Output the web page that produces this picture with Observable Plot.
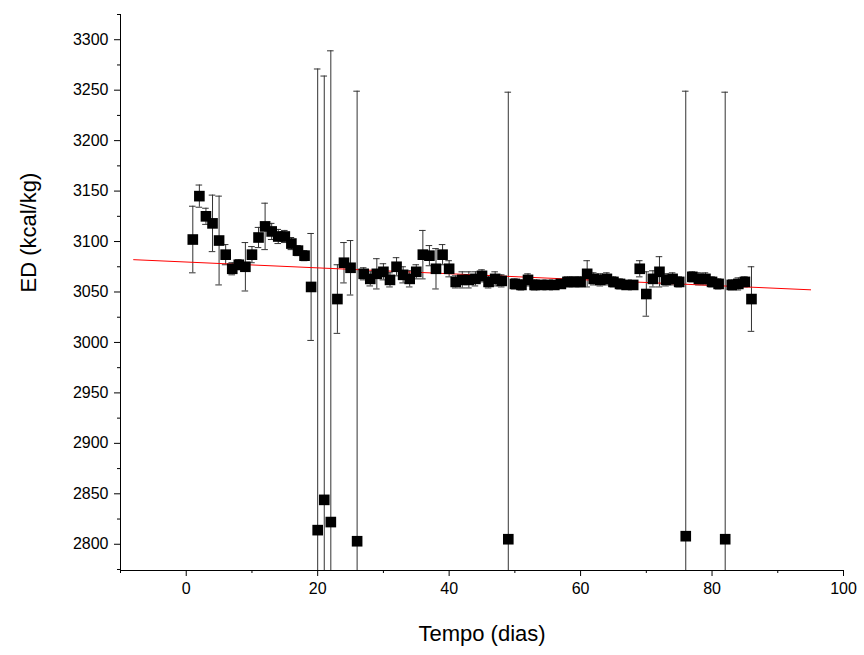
<!DOCTYPE html>
<html><head><meta charset="utf-8">
<script src="https://cdn.jsdelivr.net/npm/d3@7"></script>
<script src="https://cdn.jsdelivr.net/npm/@observablehq/plot@0.6"></script>
<style>body{margin:0;background:#fff}</style>
</head><body><div id="chart"></div>
<script>
// ED per day, with standard deviation
const days = d3.range(1, 87)
const ed = [3102,3145,3125,3118,3101,3087,3073,3077,3075,3087,3104,3115,3110,3105,3105,3098,3091,3086,3055,2814,
  2844,2822,3043,3079,3074,2803,3068,3063,3068,3070,3062,3075,3067,3063,3070,3087,3086,3073,3087,3073,
  3060,3062,3062,3063,3066,3060,3063,3061,2805,3058,3057,3062,3057,3057,3057,3057,3058,3060,3060,3060,
  3068,3063,3062,3063,3060,3058,3057,3057,3073,3048,3063,3070,3062,3063,3060,2808,3065,3063,3063,3060,
  3058,2805,3057,3058,3060,3043]
const sd = [33,11,8,28,44,10,6,5,24,8,10,23,8,7,6,6,5,5,53,457,
  420,467,34,20,27,446,6,7,15,8,7,9,8,8,7,24,10,20,10,8,
  6,8,8,7,6,6,7,6,443,5,5,6,5,4,4,4,4,5,5,5,13,6,6,6,5,5,4,4,8,22,
  8,15,6,6,5,441,5,6,6,5,5,443,5,6,5,32]
// linear fit
const fitIntercept = 3079.7
const fitSlope = -0.29
const fitX = [-8, 95]

const data = days.map((x, i) => ({x, y: ed[i], sd: sd[i]}))
const fit = fitX.map(x => ({x, y: fitIntercept + fitSlope * x}))

const chart = Plot.plot({
  width: 864, height: 655,
  marginLeft: 120, marginTop: 14, marginRight: 21, marginBottom: 85,
  style: {fontFamily: "Liberation Sans, Arial, sans-serif", fontSize: "16px", color: "black", background: "white"},
  x: {domain: [-10, 100]},
  y: {domain: [2774, 3325]},
  marks: [
    Plot.axisX({ticks: d3.range(0, 101, 20), tickSize: 6, tickPadding: 6, fontSize: 16, label: null, tickFormat: d3.format("d")}),
    Plot.axisX({ticks: d3.range(-10, 101, 20), tickSize: 3, tickFormat: () => "", label: null}),
    Plot.axisY({ticks: d3.range(2800, 3301, 50), tickSize: 6, tickPadding: 6, fontSize: 16, label: null, tickFormat: d3.format("d")}),
    Plot.axisY({ticks: d3.range(2775, 3326, 50), tickSize: 3, tickFormat: () => "", label: null}),
    Plot.ruleX([-10], {stroke: "black"}),
    Plot.ruleY([2774], {stroke: "black"}),
    Plot.ruleX(data, {x: "x", y1: d => d.y - d.sd, y2: d => d.y + d.sd, stroke: "#333", strokeWidth: 1, clip: true}),
    Plot.ruleY(data, {y: d => d.y + d.sd, x1: d => d.x - 0.5, x2: d => d.x + 0.5, stroke: "#333", clip: true}),
    Plot.ruleY(data, {y: d => d.y - d.sd, x1: d => d.x - 0.5, x2: d => d.x + 0.5, stroke: "#333", clip: true}),
    Plot.line(fit, {x: "x", y: "y", stroke: "red", strokeWidth: 1}),
    Plot.dot(data, {x: "x", y: "y", symbol: "square", r: 6, fill: "black", stroke: "none"}),
    Plot.text(["Tempo (dias)"], {frameAnchor: "bottom", dy: 70, fontSize: 22, text: d => d}),
    Plot.text(["ED (kcal/kg)"], {frameAnchor: "left", dx: -92, rotate: -90, fontSize: 22, text: d => d})
  ]
})
document.getElementById("chart").append(chart)
</script></body></html>
